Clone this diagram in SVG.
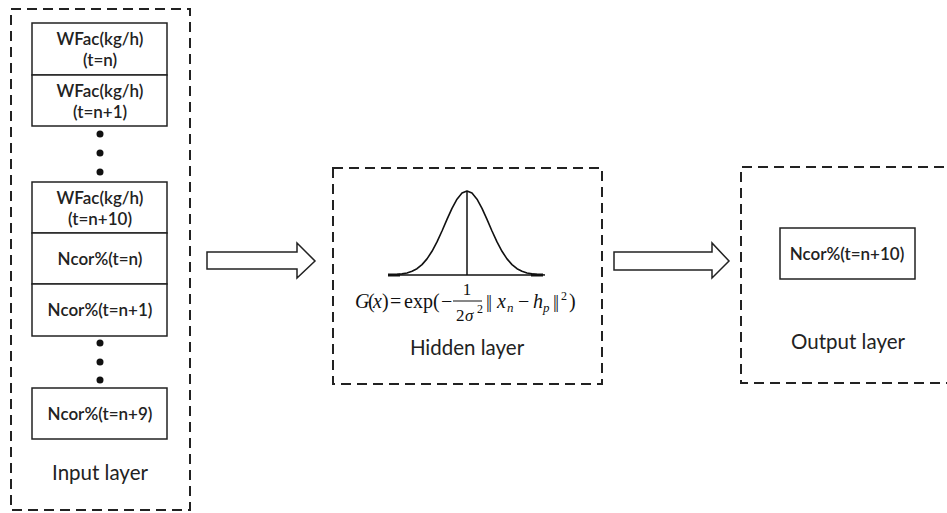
<svg xmlns="http://www.w3.org/2000/svg" width="947" height="513" viewBox="0 0 947 513">
<style>
.layer{fill:none;stroke:#222;stroke-width:2;stroke-dasharray:10 6}
.box{fill:#fff;stroke:#222;stroke-width:1.5}
.bt{font-family:Lato,"Liberation Sans",sans-serif;font-weight:600;font-size:17px;fill:#222;text-anchor:middle}
.lt{font-family:Lato,"Liberation Sans",sans-serif;font-size:20.5px;fill:#222;text-anchor:middle}
.dot{fill:#111}
.arrow{fill:#fff;stroke:#222;stroke-width:1.5;stroke-linejoin:miter}
.math{font-family:"Liberation Serif",serif;font-size:20px;fill:#111}
.fr{font-family:"Liberation Serif",serif;font-size:17px;fill:#111}
.it{font-style:italic}
.bar2{font-family:"Liberation Serif",serif;font-size:19px;fill:#111;letter-spacing:-1.5px}
.sub{font-family:"Liberation Serif",serif;font-size:13px;font-style:italic;fill:#111}
.sup{font-family:"Liberation Serif",serif;font-size:12px;fill:#111}
</style>
<rect width="947" height="513" fill="#fff"/>
<g id="input-layer">
<rect class="layer" x="11" y="9" width="179" height="501"/>
<text class="lt" x="100" y="480">Input layer</text>
</g>
<g id="in-wfac-n">
<rect class="box" x="32" y="23" width="135" height="52"/>
<text class="bt" x="100" y="45">WFac(kg/h)</text>
<text class="bt" x="100" y="66">(t=n)</text>
</g>
<g id="in-wfac-n1">
<rect class="box" x="32" y="75" width="135" height="51"/>
<text class="bt" x="100" y="97">WFac(kg/h)</text>
<text class="bt" x="100" y="118">(t=n+1)</text>
</g>
<g id="dots1">
<circle class="dot" cx="100" cy="134" r="3.5"/>
<circle class="dot" cx="100" cy="153" r="3.5"/>
<circle class="dot" cx="100" cy="172" r="3.5"/>
</g>
<g id="in-wfac-n10">
<rect class="box" x="32" y="182" width="135" height="51"/>
<text class="bt" x="100" y="204">WFac(kg/h)</text>
<text class="bt" x="100" y="225">(t=n+10)</text>
</g>
<g id="in-ncor-n">
<rect class="box" x="32" y="233" width="135" height="51"/>
<text class="bt" x="100" y="265">Ncor%(t=n)</text>
</g>
<g id="in-ncor-n1">
<rect class="box" x="32" y="284" width="135" height="52"/>
<text class="bt" x="100" y="316">Ncor%(t=n+1)</text>
</g>
<g id="dots2">
<circle class="dot" cx="100" cy="343" r="3.5"/>
<circle class="dot" cx="100" cy="362" r="3.5"/>
<circle class="dot" cx="100" cy="380" r="3.5"/>
</g>
<g id="in-ncor-n9">
<rect class="box" x="32" y="388" width="135" height="51"/>
<text class="bt" x="100" y="420">Ncor%(t=n+9)</text>
</g>
<g id="hidden-layer">
<rect class="layer" x="333" y="168" width="269" height="216"/>
<line x1="388" y1="275" x2="543" y2="275" stroke="#111" stroke-width="1.5"/>
<line x1="388" y1="275" x2="400" y2="275" stroke="#111" stroke-width="3"/>
<line x1="531" y1="275" x2="543" y2="275" stroke="#111" stroke-width="3"/>
<line x1="467" y1="191" x2="467" y2="275" stroke="#111" stroke-width="1.5"/>
<polyline fill="none" stroke="#111" stroke-width="1.6" stroke-linejoin="round" points="389,275 397,274.5 402,273.9 407,273 412,271.3 417,268.7 422,264.6 427,258.9 432,251.3 437,241.9 442,231 447,219.4 452,208.4 457,199.2 462,193.1 467,191 472,193.1 477,199.2 482,208.4 487,219.4 492,231 497,241.9 502,251.3 507,258.9 512,264.6 517,268.7 522,271.3 527,273 532,273.9 537,274.5 545,275"/>
<text class="math it" x="355" y="308">G</text>
<text class="math" x="368" y="308">(</text>
<text class="math it" x="373" y="308">x</text>
<text class="math" x="382" y="308">)</text>
<text class="math" x="390" y="308">=</text>
<text class="math" x="404" y="308">exp(</text>
<text class="math" x="441" y="308">−</text>
<text class="fr" x="467" y="295" text-anchor="middle">1</text>
<line x1="453" y1="301" x2="482" y2="301" stroke="#111" stroke-width="1"/>
<text class="fr" x="456" y="321">2</text>
<text class="fr it" x="465" y="321">σ</text>
<text class="sup" x="477" y="313">2</text>
<text class="bar2" x="486" y="308">||</text>
<text class="math it" x="497" y="308">x</text>
<text class="sub" x="507" y="312">n</text>
<text class="math" x="518" y="308">−</text>
<text class="math it" x="533" y="308">h</text>
<text class="sub" x="543" y="312">p</text>
<text class="bar2" x="553" y="308">||</text>
<text class="sup" x="561" y="300">2</text>
<text class="math" x="569" y="308">)</text>
<text class="lt" x="467" y="355">Hidden layer</text>
</g>
<g id="output-layer">
<path class="layer" d="M960,167 H741 V383 H960"/>
<text class="lt" x="848" y="349">Output layer</text>
</g>
<g id="out-ncor-n10">
<rect class="box" x="780" y="228" width="135" height="51"/>
<text class="bt" x="847" y="260">Ncor%(t=n+10)</text>
</g>
<g id="connectors">
<path class="arrow" d="M207,252 H297 V243 L315,261 L297,278 V269 H207 Z"/>
<path class="arrow" d="M614,252 H712 V243 L729,261 L712,278 V270 H614 Z"/>
</g>
</svg>
